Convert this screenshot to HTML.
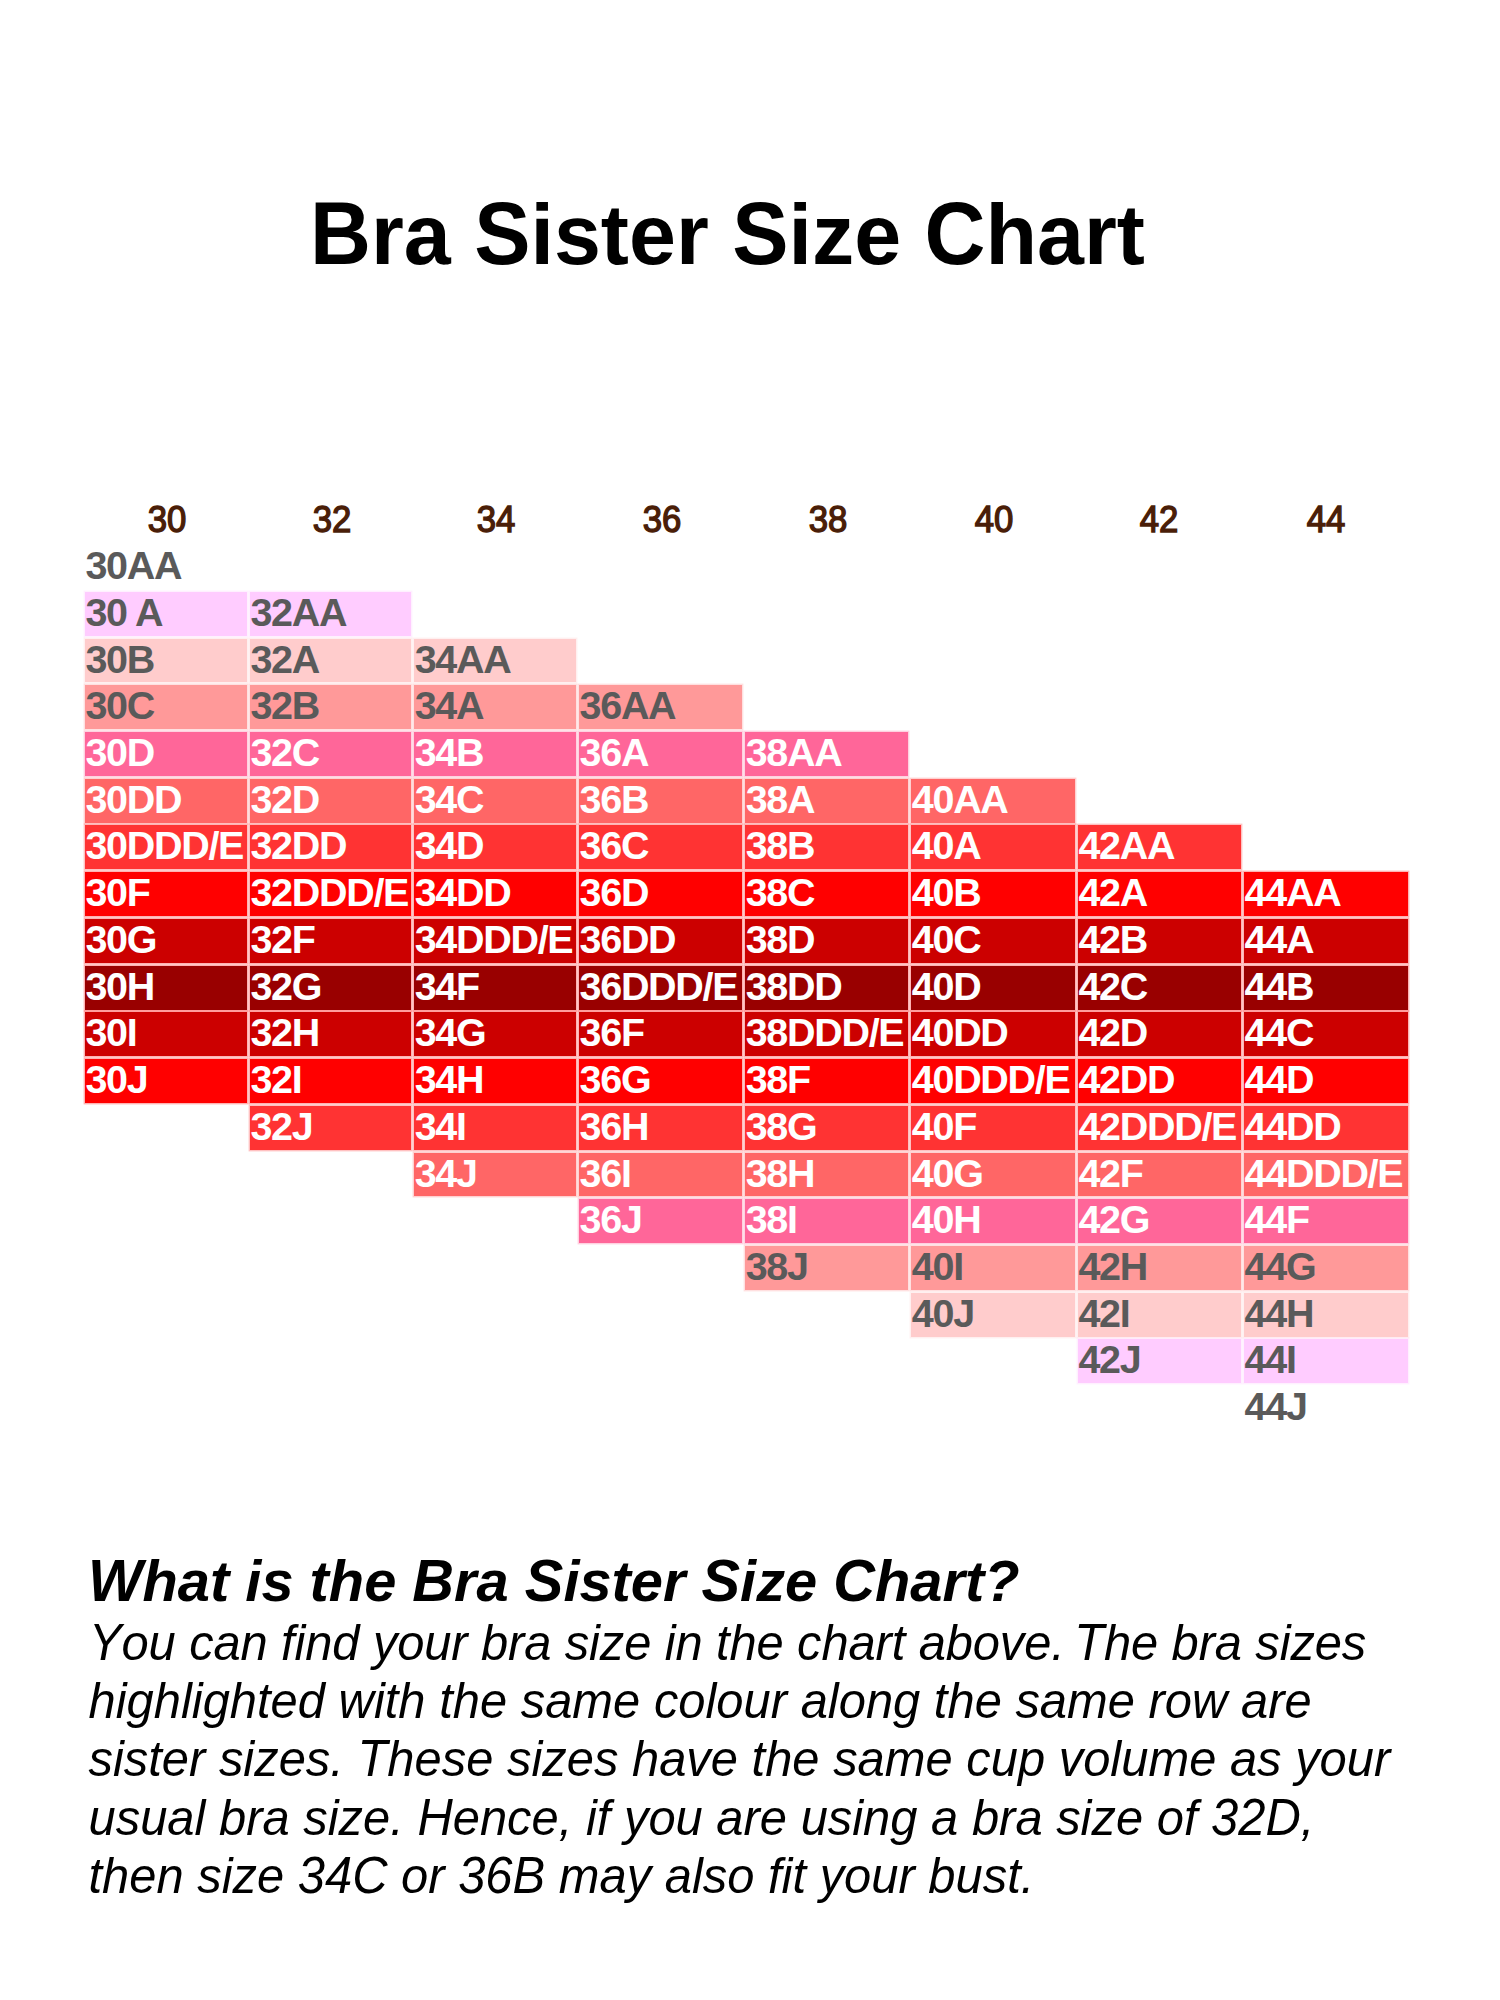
<!DOCTYPE html>
<html><head><meta charset="utf-8">
<style>
html,body{margin:0;padding:0;background:#fff;}
body{width:1500px;height:2000px;position:relative;overflow:hidden;font-family:"Liberation Sans",sans-serif;}
.w{display:inline-block;}
.title{position:absolute;left:310px;top:193px;font-weight:bold;font-size:84.4px;line-height:1;color:#000;white-space:nowrap;}
.h{position:absolute;top:502.2px;text-align:center;font-size:36.2px;line-height:1;color:#4a1e08;font-weight:normal;-webkit-text-stroke:1.4px #4a1e08;transform:scaleX(0.96);}
.c{position:absolute;font-weight:bold;font-size:39.5px;line-height:1;white-space:nowrap;letter-spacing:-1.3px;}
.c span{position:absolute;left:0.8px;top:1.0px;display:block;transform:scaleX(1);transform-origin:0 0;}
.q{position:absolute;left:88px;top:1553px;font-weight:bold;font-style:italic;font-size:57.8px;line-height:1;color:#000;white-space:nowrap;}
.p{position:absolute;left:88.5px;top:1613.6px;font-style:italic;font-size:48.9px;line-height:58.33px;color:#000;white-space:nowrap;}
</style></head><body>
<div class="title"><span class="w" style="transform:scaleY(1.045);transform-origin:0 71.44px">B</span><span class="w" style="transform:scaleY(1.0);transform-origin:0 71.44px">ra</span> <span class="w" style="transform:scaleY(1.045);transform-origin:0 71.44px">S</span><span class="w" style="transform:scaleY(1.0);transform-origin:0 71.44px">ister</span> <span class="w" style="transform:scaleY(1.045);transform-origin:0 71.44px">S</span><span class="w" style="transform:scaleY(1.0);transform-origin:0 71.44px">ize</span> <span class="w" style="transform:scaleY(1.045);transform-origin:0 71.44px">C</span><span class="w" style="transform:scaleY(1.0);transform-origin:0 71.44px">hart</span></div>
<div class="h" style="left:106.65px;width:120px;">30</div><div class="h" style="left:271.60px;width:120px;">32</div><div class="h" style="left:436.40px;width:120px;">34</div><div class="h" style="left:601.60px;width:120px;">36</div><div class="h" style="left:767.80px;width:120px;">38</div><div class="h" style="left:933.50px;width:120px;">40</div><div class="h" style="left:1099.20px;width:120px;">42</div><div class="h" style="left:1266.30px;width:120px;">44</div>
<div class="c" style="left:84.60px;top:545.07px;width:162.20px;height:43.93px;color:#5a5a5a;"><span>30AA</span></div><div class="c" style="left:84.60px;top:591.80px;width:162.20px;height:43.93px;color:#5a5a5a;background:#ffccff;box-shadow:0 0 0 1.4px rgba(255,204,255,0.3);"><span>30 A</span></div><div class="c" style="left:84.60px;top:638.53px;width:162.20px;height:43.93px;color:#5a5a5a;background:#ffcccc;box-shadow:0 0 0 1.4px rgba(255,204,204,0.3);"><span>30B</span></div><div class="c" style="left:84.60px;top:685.26px;width:162.20px;height:43.93px;color:#5a5a5a;background:#ff9999;box-shadow:0 0 0 1.4px rgba(255,153,153,0.3);"><span>30C</span></div><div class="c" style="left:84.60px;top:731.99px;width:162.20px;height:43.93px;color:#fff;background:#ff6699;box-shadow:0 0 0 1.4px rgba(255,102,153,0.3);"><span>30D</span></div><div class="c" style="left:84.60px;top:778.72px;width:162.20px;height:43.93px;color:#fff;background:#ff6666;box-shadow:0 0 0 1.4px rgba(255,102,102,0.3);"><span>30DD</span></div><div class="c" style="left:84.60px;top:825.45px;width:162.20px;height:43.93px;color:#fff;background:#ff3333;box-shadow:0 0 0 1.4px rgba(255,51,51,0.3);"><span>30DDD/E</span></div><div class="c" style="left:84.60px;top:872.18px;width:162.20px;height:43.93px;color:#fff;background:#ff0000;box-shadow:0 0 0 1.4px rgba(255,0,0,0.3);"><span>30F</span></div><div class="c" style="left:84.60px;top:918.91px;width:162.20px;height:43.93px;color:#fff;background:#cc0000;box-shadow:0 0 0 1.4px rgba(255,0,0,0.3);"><span>30G</span></div><div class="c" style="left:84.60px;top:965.64px;width:162.20px;height:43.93px;color:#fff;background:#990000;box-shadow:0 0 0 1.4px rgba(255,0,0,0.3);"><span>30H</span></div><div class="c" style="left:84.60px;top:1012.37px;width:162.20px;height:43.93px;color:#fff;background:#cc0000;box-shadow:0 0 0 1.4px rgba(255,0,0,0.3);"><span>30I</span></div><div class="c" style="left:84.60px;top:1059.10px;width:162.20px;height:43.93px;color:#fff;background:#ff0000;box-shadow:0 0 0 1.4px rgba(255,0,0,0.3);"><span>30J</span></div><div class="c" style="left:249.60px;top:591.80px;width:161.50px;height:43.93px;color:#5a5a5a;background:#ffccff;box-shadow:0 0 0 1.4px rgba(255,204,255,0.3);"><span>32AA</span></div><div class="c" style="left:249.60px;top:638.53px;width:161.50px;height:43.93px;color:#5a5a5a;background:#ffcccc;box-shadow:0 0 0 1.4px rgba(255,204,204,0.3);"><span>32A</span></div><div class="c" style="left:249.60px;top:685.26px;width:161.50px;height:43.93px;color:#5a5a5a;background:#ff9999;box-shadow:0 0 0 1.4px rgba(255,153,153,0.3);"><span>32B</span></div><div class="c" style="left:249.60px;top:731.99px;width:161.50px;height:43.93px;color:#fff;background:#ff6699;box-shadow:0 0 0 1.4px rgba(255,102,153,0.3);"><span>32C</span></div><div class="c" style="left:249.60px;top:778.72px;width:161.50px;height:43.93px;color:#fff;background:#ff6666;box-shadow:0 0 0 1.4px rgba(255,102,102,0.3);"><span>32D</span></div><div class="c" style="left:249.60px;top:825.45px;width:161.50px;height:43.93px;color:#fff;background:#ff3333;box-shadow:0 0 0 1.4px rgba(255,51,51,0.3);"><span>32DD</span></div><div class="c" style="left:249.60px;top:872.18px;width:161.50px;height:43.93px;color:#fff;background:#ff0000;box-shadow:0 0 0 1.4px rgba(255,0,0,0.3);"><span>32DDD/E</span></div><div class="c" style="left:249.60px;top:918.91px;width:161.50px;height:43.93px;color:#fff;background:#cc0000;box-shadow:0 0 0 1.4px rgba(255,0,0,0.3);"><span>32F</span></div><div class="c" style="left:249.60px;top:965.64px;width:161.50px;height:43.93px;color:#fff;background:#990000;box-shadow:0 0 0 1.4px rgba(255,0,0,0.3);"><span>32G</span></div><div class="c" style="left:249.60px;top:1012.37px;width:161.50px;height:43.93px;color:#fff;background:#cc0000;box-shadow:0 0 0 1.4px rgba(255,0,0,0.3);"><span>32H</span></div><div class="c" style="left:249.60px;top:1059.10px;width:161.50px;height:43.93px;color:#fff;background:#ff0000;box-shadow:0 0 0 1.4px rgba(255,0,0,0.3);"><span>32I</span></div><div class="c" style="left:249.60px;top:1105.83px;width:161.50px;height:43.93px;color:#fff;background:#ff3333;box-shadow:0 0 0 1.4px rgba(255,51,51,0.3);"><span>32J</span></div><div class="c" style="left:413.90px;top:638.53px;width:162.05px;height:43.93px;color:#5a5a5a;background:#ffcccc;box-shadow:0 0 0 1.4px rgba(255,204,204,0.3);"><span>34AA</span></div><div class="c" style="left:413.90px;top:685.26px;width:162.05px;height:43.93px;color:#5a5a5a;background:#ff9999;box-shadow:0 0 0 1.4px rgba(255,153,153,0.3);"><span>34A</span></div><div class="c" style="left:413.90px;top:731.99px;width:162.05px;height:43.93px;color:#fff;background:#ff6699;box-shadow:0 0 0 1.4px rgba(255,102,153,0.3);"><span>34B</span></div><div class="c" style="left:413.90px;top:778.72px;width:162.05px;height:43.93px;color:#fff;background:#ff6666;box-shadow:0 0 0 1.4px rgba(255,102,102,0.3);"><span>34C</span></div><div class="c" style="left:413.90px;top:825.45px;width:162.05px;height:43.93px;color:#fff;background:#ff3333;box-shadow:0 0 0 1.4px rgba(255,51,51,0.3);"><span>34D</span></div><div class="c" style="left:413.90px;top:872.18px;width:162.05px;height:43.93px;color:#fff;background:#ff0000;box-shadow:0 0 0 1.4px rgba(255,0,0,0.3);"><span>34DD</span></div><div class="c" style="left:413.90px;top:918.91px;width:162.05px;height:43.93px;color:#fff;background:#cc0000;box-shadow:0 0 0 1.4px rgba(255,0,0,0.3);"><span>34DDD/E</span></div><div class="c" style="left:413.90px;top:965.64px;width:162.05px;height:43.93px;color:#fff;background:#990000;box-shadow:0 0 0 1.4px rgba(255,0,0,0.3);"><span>34F</span></div><div class="c" style="left:413.90px;top:1012.37px;width:162.05px;height:43.93px;color:#fff;background:#cc0000;box-shadow:0 0 0 1.4px rgba(255,0,0,0.3);"><span>34G</span></div><div class="c" style="left:413.90px;top:1059.10px;width:162.05px;height:43.93px;color:#fff;background:#ff0000;box-shadow:0 0 0 1.4px rgba(255,0,0,0.3);"><span>34H</span></div><div class="c" style="left:413.90px;top:1105.83px;width:162.05px;height:43.93px;color:#fff;background:#ff3333;box-shadow:0 0 0 1.4px rgba(255,51,51,0.3);"><span>34I</span></div><div class="c" style="left:413.90px;top:1152.56px;width:162.05px;height:43.93px;color:#fff;background:#ff6666;box-shadow:0 0 0 1.4px rgba(255,102,102,0.3);"><span>34J</span></div><div class="c" style="left:578.75px;top:685.26px;width:163.30px;height:43.93px;color:#5a5a5a;background:#ff9999;box-shadow:0 0 0 1.4px rgba(255,153,153,0.3);"><span>36AA</span></div><div class="c" style="left:578.75px;top:731.99px;width:163.30px;height:43.93px;color:#fff;background:#ff6699;box-shadow:0 0 0 1.4px rgba(255,102,153,0.3);"><span>36A</span></div><div class="c" style="left:578.75px;top:778.72px;width:163.30px;height:43.93px;color:#fff;background:#ff6666;box-shadow:0 0 0 1.4px rgba(255,102,102,0.3);"><span>36B</span></div><div class="c" style="left:578.75px;top:825.45px;width:163.30px;height:43.93px;color:#fff;background:#ff3333;box-shadow:0 0 0 1.4px rgba(255,51,51,0.3);"><span>36C</span></div><div class="c" style="left:578.75px;top:872.18px;width:163.30px;height:43.93px;color:#fff;background:#ff0000;box-shadow:0 0 0 1.4px rgba(255,0,0,0.3);"><span>36D</span></div><div class="c" style="left:578.75px;top:918.91px;width:163.30px;height:43.93px;color:#fff;background:#cc0000;box-shadow:0 0 0 1.4px rgba(255,0,0,0.3);"><span>36DD</span></div><div class="c" style="left:578.75px;top:965.64px;width:163.30px;height:43.93px;color:#fff;background:#990000;box-shadow:0 0 0 1.4px rgba(255,0,0,0.3);"><span>36DDD/E</span></div><div class="c" style="left:578.75px;top:1012.37px;width:163.30px;height:43.93px;color:#fff;background:#cc0000;box-shadow:0 0 0 1.4px rgba(255,0,0,0.3);"><span>36F</span></div><div class="c" style="left:578.75px;top:1059.10px;width:163.30px;height:43.93px;color:#fff;background:#ff0000;box-shadow:0 0 0 1.4px rgba(255,0,0,0.3);"><span>36G</span></div><div class="c" style="left:578.75px;top:1105.83px;width:163.30px;height:43.93px;color:#fff;background:#ff3333;box-shadow:0 0 0 1.4px rgba(255,51,51,0.3);"><span>36H</span></div><div class="c" style="left:578.75px;top:1152.56px;width:163.30px;height:43.93px;color:#fff;background:#ff6666;box-shadow:0 0 0 1.4px rgba(255,102,102,0.3);"><span>36I</span></div><div class="c" style="left:578.75px;top:1199.29px;width:163.30px;height:43.93px;color:#fff;background:#ff6699;box-shadow:0 0 0 1.4px rgba(255,102,153,0.3);"><span>36J</span></div><div class="c" style="left:744.85px;top:731.99px;width:163.35px;height:43.93px;color:#fff;background:#ff6699;box-shadow:0 0 0 1.4px rgba(255,102,153,0.3);"><span>38AA</span></div><div class="c" style="left:744.85px;top:778.72px;width:163.35px;height:43.93px;color:#fff;background:#ff6666;box-shadow:0 0 0 1.4px rgba(255,102,102,0.3);"><span>38A</span></div><div class="c" style="left:744.85px;top:825.45px;width:163.35px;height:43.93px;color:#fff;background:#ff3333;box-shadow:0 0 0 1.4px rgba(255,51,51,0.3);"><span>38B</span></div><div class="c" style="left:744.85px;top:872.18px;width:163.35px;height:43.93px;color:#fff;background:#ff0000;box-shadow:0 0 0 1.4px rgba(255,0,0,0.3);"><span>38C</span></div><div class="c" style="left:744.85px;top:918.91px;width:163.35px;height:43.93px;color:#fff;background:#cc0000;box-shadow:0 0 0 1.4px rgba(255,0,0,0.3);"><span>38D</span></div><div class="c" style="left:744.85px;top:965.64px;width:163.35px;height:43.93px;color:#fff;background:#990000;box-shadow:0 0 0 1.4px rgba(255,0,0,0.3);"><span>38DD</span></div><div class="c" style="left:744.85px;top:1012.37px;width:163.35px;height:43.93px;color:#fff;background:#cc0000;box-shadow:0 0 0 1.4px rgba(255,0,0,0.3);"><span>38DDD/E</span></div><div class="c" style="left:744.85px;top:1059.10px;width:163.35px;height:43.93px;color:#fff;background:#ff0000;box-shadow:0 0 0 1.4px rgba(255,0,0,0.3);"><span>38F</span></div><div class="c" style="left:744.85px;top:1105.83px;width:163.35px;height:43.93px;color:#fff;background:#ff3333;box-shadow:0 0 0 1.4px rgba(255,51,51,0.3);"><span>38G</span></div><div class="c" style="left:744.85px;top:1152.56px;width:163.35px;height:43.93px;color:#fff;background:#ff6666;box-shadow:0 0 0 1.4px rgba(255,102,102,0.3);"><span>38H</span></div><div class="c" style="left:744.85px;top:1199.29px;width:163.35px;height:43.93px;color:#fff;background:#ff6699;box-shadow:0 0 0 1.4px rgba(255,102,153,0.3);"><span>38I</span></div><div class="c" style="left:744.85px;top:1246.02px;width:163.35px;height:43.93px;color:#5a5a5a;background:#ff9999;box-shadow:0 0 0 1.4px rgba(255,153,153,0.3);"><span>38J</span></div><div class="c" style="left:911.00px;top:778.72px;width:163.85px;height:43.93px;color:#fff;background:#ff6666;box-shadow:0 0 0 1.4px rgba(255,102,102,0.3);"><span>40AA</span></div><div class="c" style="left:911.00px;top:825.45px;width:163.85px;height:43.93px;color:#fff;background:#ff3333;box-shadow:0 0 0 1.4px rgba(255,51,51,0.3);"><span>40A</span></div><div class="c" style="left:911.00px;top:872.18px;width:163.85px;height:43.93px;color:#fff;background:#ff0000;box-shadow:0 0 0 1.4px rgba(255,0,0,0.3);"><span>40B</span></div><div class="c" style="left:911.00px;top:918.91px;width:163.85px;height:43.93px;color:#fff;background:#cc0000;box-shadow:0 0 0 1.4px rgba(255,0,0,0.3);"><span>40C</span></div><div class="c" style="left:911.00px;top:965.64px;width:163.85px;height:43.93px;color:#fff;background:#990000;box-shadow:0 0 0 1.4px rgba(255,0,0,0.3);"><span>40D</span></div><div class="c" style="left:911.00px;top:1012.37px;width:163.85px;height:43.93px;color:#fff;background:#cc0000;box-shadow:0 0 0 1.4px rgba(255,0,0,0.3);"><span>40DD</span></div><div class="c" style="left:911.00px;top:1059.10px;width:163.85px;height:43.93px;color:#fff;background:#ff0000;box-shadow:0 0 0 1.4px rgba(255,0,0,0.3);"><span>40DDD/E</span></div><div class="c" style="left:911.00px;top:1105.83px;width:163.85px;height:43.93px;color:#fff;background:#ff3333;box-shadow:0 0 0 1.4px rgba(255,51,51,0.3);"><span>40F</span></div><div class="c" style="left:911.00px;top:1152.56px;width:163.85px;height:43.93px;color:#fff;background:#ff6666;box-shadow:0 0 0 1.4px rgba(255,102,102,0.3);"><span>40G</span></div><div class="c" style="left:911.00px;top:1199.29px;width:163.85px;height:43.93px;color:#fff;background:#ff6699;box-shadow:0 0 0 1.4px rgba(255,102,153,0.3);"><span>40H</span></div><div class="c" style="left:911.00px;top:1246.02px;width:163.85px;height:43.93px;color:#5a5a5a;background:#ff9999;box-shadow:0 0 0 1.4px rgba(255,153,153,0.3);"><span>40I</span></div><div class="c" style="left:911.00px;top:1292.75px;width:163.85px;height:43.93px;color:#5a5a5a;background:#ffcccc;box-shadow:0 0 0 1.4px rgba(255,204,204,0.3);"><span>40J</span></div><div class="c" style="left:1077.65px;top:825.45px;width:163.35px;height:43.93px;color:#fff;background:#ff3333;box-shadow:0 0 0 1.4px rgba(255,51,51,0.3);"><span>42AA</span></div><div class="c" style="left:1077.65px;top:872.18px;width:163.35px;height:43.93px;color:#fff;background:#ff0000;box-shadow:0 0 0 1.4px rgba(255,0,0,0.3);"><span>42A</span></div><div class="c" style="left:1077.65px;top:918.91px;width:163.35px;height:43.93px;color:#fff;background:#cc0000;box-shadow:0 0 0 1.4px rgba(255,0,0,0.3);"><span>42B</span></div><div class="c" style="left:1077.65px;top:965.64px;width:163.35px;height:43.93px;color:#fff;background:#990000;box-shadow:0 0 0 1.4px rgba(255,0,0,0.3);"><span>42C</span></div><div class="c" style="left:1077.65px;top:1012.37px;width:163.35px;height:43.93px;color:#fff;background:#cc0000;box-shadow:0 0 0 1.4px rgba(255,0,0,0.3);"><span>42D</span></div><div class="c" style="left:1077.65px;top:1059.10px;width:163.35px;height:43.93px;color:#fff;background:#ff0000;box-shadow:0 0 0 1.4px rgba(255,0,0,0.3);"><span>42DD</span></div><div class="c" style="left:1077.65px;top:1105.83px;width:163.35px;height:43.93px;color:#fff;background:#ff3333;box-shadow:0 0 0 1.4px rgba(255,51,51,0.3);"><span>42DDD/E</span></div><div class="c" style="left:1077.65px;top:1152.56px;width:163.35px;height:43.93px;color:#fff;background:#ff6666;box-shadow:0 0 0 1.4px rgba(255,102,102,0.3);"><span>42F</span></div><div class="c" style="left:1077.65px;top:1199.29px;width:163.35px;height:43.93px;color:#fff;background:#ff6699;box-shadow:0 0 0 1.4px rgba(255,102,153,0.3);"><span>42G</span></div><div class="c" style="left:1077.65px;top:1246.02px;width:163.35px;height:43.93px;color:#5a5a5a;background:#ff9999;box-shadow:0 0 0 1.4px rgba(255,153,153,0.3);"><span>42H</span></div><div class="c" style="left:1077.65px;top:1292.75px;width:163.35px;height:43.93px;color:#5a5a5a;background:#ffcccc;box-shadow:0 0 0 1.4px rgba(255,204,204,0.3);"><span>42I</span></div><div class="c" style="left:1077.65px;top:1339.48px;width:163.35px;height:43.93px;color:#5a5a5a;background:#ffccff;box-shadow:0 0 0 1.4px rgba(255,204,255,0.3);"><span>42J</span></div><div class="c" style="left:1243.80px;top:872.18px;width:163.80px;height:43.93px;color:#fff;background:#ff0000;box-shadow:0 0 0 1.4px rgba(255,0,0,0.3);"><span>44AA</span></div><div class="c" style="left:1243.80px;top:918.91px;width:163.80px;height:43.93px;color:#fff;background:#cc0000;box-shadow:0 0 0 1.4px rgba(255,0,0,0.3);"><span>44A</span></div><div class="c" style="left:1243.80px;top:965.64px;width:163.80px;height:43.93px;color:#fff;background:#990000;box-shadow:0 0 0 1.4px rgba(255,0,0,0.3);"><span>44B</span></div><div class="c" style="left:1243.80px;top:1012.37px;width:163.80px;height:43.93px;color:#fff;background:#cc0000;box-shadow:0 0 0 1.4px rgba(255,0,0,0.3);"><span>44C</span></div><div class="c" style="left:1243.80px;top:1059.10px;width:163.80px;height:43.93px;color:#fff;background:#ff0000;box-shadow:0 0 0 1.4px rgba(255,0,0,0.3);"><span>44D</span></div><div class="c" style="left:1243.80px;top:1105.83px;width:163.80px;height:43.93px;color:#fff;background:#ff3333;box-shadow:0 0 0 1.4px rgba(255,51,51,0.3);"><span>44DD</span></div><div class="c" style="left:1243.80px;top:1152.56px;width:163.80px;height:43.93px;color:#fff;background:#ff6666;box-shadow:0 0 0 1.4px rgba(255,102,102,0.3);"><span>44DDD/E</span></div><div class="c" style="left:1243.80px;top:1199.29px;width:163.80px;height:43.93px;color:#fff;background:#ff6699;box-shadow:0 0 0 1.4px rgba(255,102,153,0.3);"><span>44F</span></div><div class="c" style="left:1243.80px;top:1246.02px;width:163.80px;height:43.93px;color:#5a5a5a;background:#ff9999;box-shadow:0 0 0 1.4px rgba(255,153,153,0.3);"><span>44G</span></div><div class="c" style="left:1243.80px;top:1292.75px;width:163.80px;height:43.93px;color:#5a5a5a;background:#ffcccc;box-shadow:0 0 0 1.4px rgba(255,204,204,0.3);"><span>44H</span></div><div class="c" style="left:1243.80px;top:1339.48px;width:163.80px;height:43.93px;color:#5a5a5a;background:#ffccff;box-shadow:0 0 0 1.4px rgba(255,204,255,0.3);"><span>44I</span></div><div class="c" style="left:1243.80px;top:1386.21px;width:163.80px;height:43.93px;color:#5a5a5a;"><span>44J</span></div>
<div class="q"><span class="w" style="transform:scaleY(1.025);transform-origin:0 48.93px">W</span><span class="w" style="transform:scaleY(1.0);transform-origin:0 48.93px">hat</span> <span class="w" style="transform:scaleY(1.0);transform-origin:0 48.93px">is</span> <span class="w" style="transform:scaleY(1.0);transform-origin:0 48.93px">the</span> <span class="w" style="transform:scaleY(1.025);transform-origin:0 48.93px">B</span><span class="w" style="transform:scaleY(1.0);transform-origin:0 48.93px">ra</span> <span class="w" style="transform:scaleY(1.025);transform-origin:0 48.93px">S</span><span class="w" style="transform:scaleY(1.0);transform-origin:0 48.93px">ister</span> <span class="w" style="transform:scaleY(1.025);transform-origin:0 48.93px">S</span><span class="w" style="transform:scaleY(1.0);transform-origin:0 48.93px">ize</span> <span class="w" style="transform:scaleY(1.025);transform-origin:0 48.93px">C</span><span class="w" style="transform:scaleY(1.0);transform-origin:0 48.93px">hart</span>?</div>
<div class="p"><span style="padding-left:0.5px;letter-spacing:-0.12px"><span class="w" style="transform:scaleY(1.06);transform-origin:0 46.11px">Y</span><span class="w" style="transform:scaleY(1.02);transform-origin:0 46.11px">ou</span> <span class="w" style="transform:scaleY(1.02);transform-origin:0 46.11px">can</span> <span class="w" style="transform:scaleY(1.02);transform-origin:0 46.11px">find</span> <span class="w" style="transform:scaleY(1.02);transform-origin:0 46.11px">your</span> <span class="w" style="transform:scaleY(1.02);transform-origin:0 46.11px">bra</span> <span class="w" style="transform:scaleY(1.02);transform-origin:0 46.11px">size</span> <span class="w" style="transform:scaleY(1.02);transform-origin:0 46.11px">in</span> <span class="w" style="transform:scaleY(1.02);transform-origin:0 46.11px">the</span> <span class="w" style="transform:scaleY(1.02);transform-origin:0 46.11px">chart</span> <span class="w" style="transform:scaleY(1.02);transform-origin:0 46.11px">above</span>.<span style="margin-left:-4px"> </span><span class="w" style="transform:scaleY(1.06);transform-origin:0 46.11px">T</span><span class="w" style="transform:scaleY(1.02);transform-origin:0 46.11px">he</span> <span class="w" style="transform:scaleY(1.02);transform-origin:0 46.11px">bra</span> <span class="w" style="transform:scaleY(1.02);transform-origin:0 46.11px">sizes</span></span><br><span class="w" style="transform:scaleY(1.02);transform-origin:0 46.11px">highlighted</span> <span class="w" style="transform:scaleY(1.02);transform-origin:0 46.11px">with</span> <span class="w" style="transform:scaleY(1.02);transform-origin:0 46.11px">the</span> <span class="w" style="transform:scaleY(1.02);transform-origin:0 46.11px">same</span> <span class="w" style="transform:scaleY(1.02);transform-origin:0 46.11px">colour</span> <span class="w" style="transform:scaleY(1.02);transform-origin:0 46.11px">along</span> <span class="w" style="transform:scaleY(1.02);transform-origin:0 46.11px">the</span> <span class="w" style="transform:scaleY(1.02);transform-origin:0 46.11px">same</span> <span class="w" style="transform:scaleY(1.02);transform-origin:0 46.11px">row</span> <span class="w" style="transform:scaleY(1.02);transform-origin:0 46.11px">are</span><br><span class="w" style="transform:scaleY(1.02);transform-origin:0 46.11px">sister</span> <span class="w" style="transform:scaleY(1.02);transform-origin:0 46.11px">sizes</span>. <span class="w" style="transform:scaleY(1.06);transform-origin:0 46.11px">T</span><span class="w" style="transform:scaleY(1.02);transform-origin:0 46.11px">hese</span> <span class="w" style="transform:scaleY(1.02);transform-origin:0 46.11px">sizes</span> <span class="w" style="transform:scaleY(1.02);transform-origin:0 46.11px">have</span> <span class="w" style="transform:scaleY(1.02);transform-origin:0 46.11px">the</span> <span class="w" style="transform:scaleY(1.02);transform-origin:0 46.11px">same</span> <span class="w" style="transform:scaleY(1.02);transform-origin:0 46.11px">cup</span> <span class="w" style="transform:scaleY(1.02);transform-origin:0 46.11px">volume</span> <span class="w" style="transform:scaleY(1.02);transform-origin:0 46.11px">as</span> <span class="w" style="transform:scaleY(1.02);transform-origin:0 46.11px">your</span><br><span class="w" style="transform:scaleY(1.02);transform-origin:0 46.11px">usual</span> <span class="w" style="transform:scaleY(1.02);transform-origin:0 46.11px">bra</span> <span class="w" style="transform:scaleY(1.02);transform-origin:0 46.11px">size</span>. <span class="w" style="transform:scaleY(1.06);transform-origin:0 46.11px">H</span><span class="w" style="transform:scaleY(1.02);transform-origin:0 46.11px">ence</span>, <span class="w" style="transform:scaleY(1.02);transform-origin:0 46.11px">if</span> <span class="w" style="transform:scaleY(1.02);transform-origin:0 46.11px">you</span> <span class="w" style="transform:scaleY(1.02);transform-origin:0 46.11px">are</span> <span class="w" style="transform:scaleY(1.02);transform-origin:0 46.11px">using</span> <span class="w" style="transform:scaleY(1.02);transform-origin:0 46.11px">a</span> <span class="w" style="transform:scaleY(1.02);transform-origin:0 46.11px">bra</span> <span class="w" style="transform:scaleY(1.02);transform-origin:0 46.11px">size</span> <span class="w" style="transform:scaleY(1.02);transform-origin:0 46.11px">of</span> <span class="w" style="transform:scaleY(1.06);transform-origin:0 46.11px">32D</span>,<br><span class="w" style="transform:scaleY(1.02);transform-origin:0 46.11px">then</span> <span class="w" style="transform:scaleY(1.02);transform-origin:0 46.11px">size</span> <span class="w" style="transform:scaleY(1.06);transform-origin:0 46.11px">34C</span> <span class="w" style="transform:scaleY(1.02);transform-origin:0 46.11px">or</span> <span class="w" style="transform:scaleY(1.06);transform-origin:0 46.11px">36B</span> <span class="w" style="transform:scaleY(1.02);transform-origin:0 46.11px">may</span> <span class="w" style="transform:scaleY(1.02);transform-origin:0 46.11px">also</span> <span class="w" style="transform:scaleY(1.02);transform-origin:0 46.11px">fit</span> <span class="w" style="transform:scaleY(1.02);transform-origin:0 46.11px">your</span> <span class="w" style="transform:scaleY(1.02);transform-origin:0 46.11px">bust</span>.</div>
</body></html>
